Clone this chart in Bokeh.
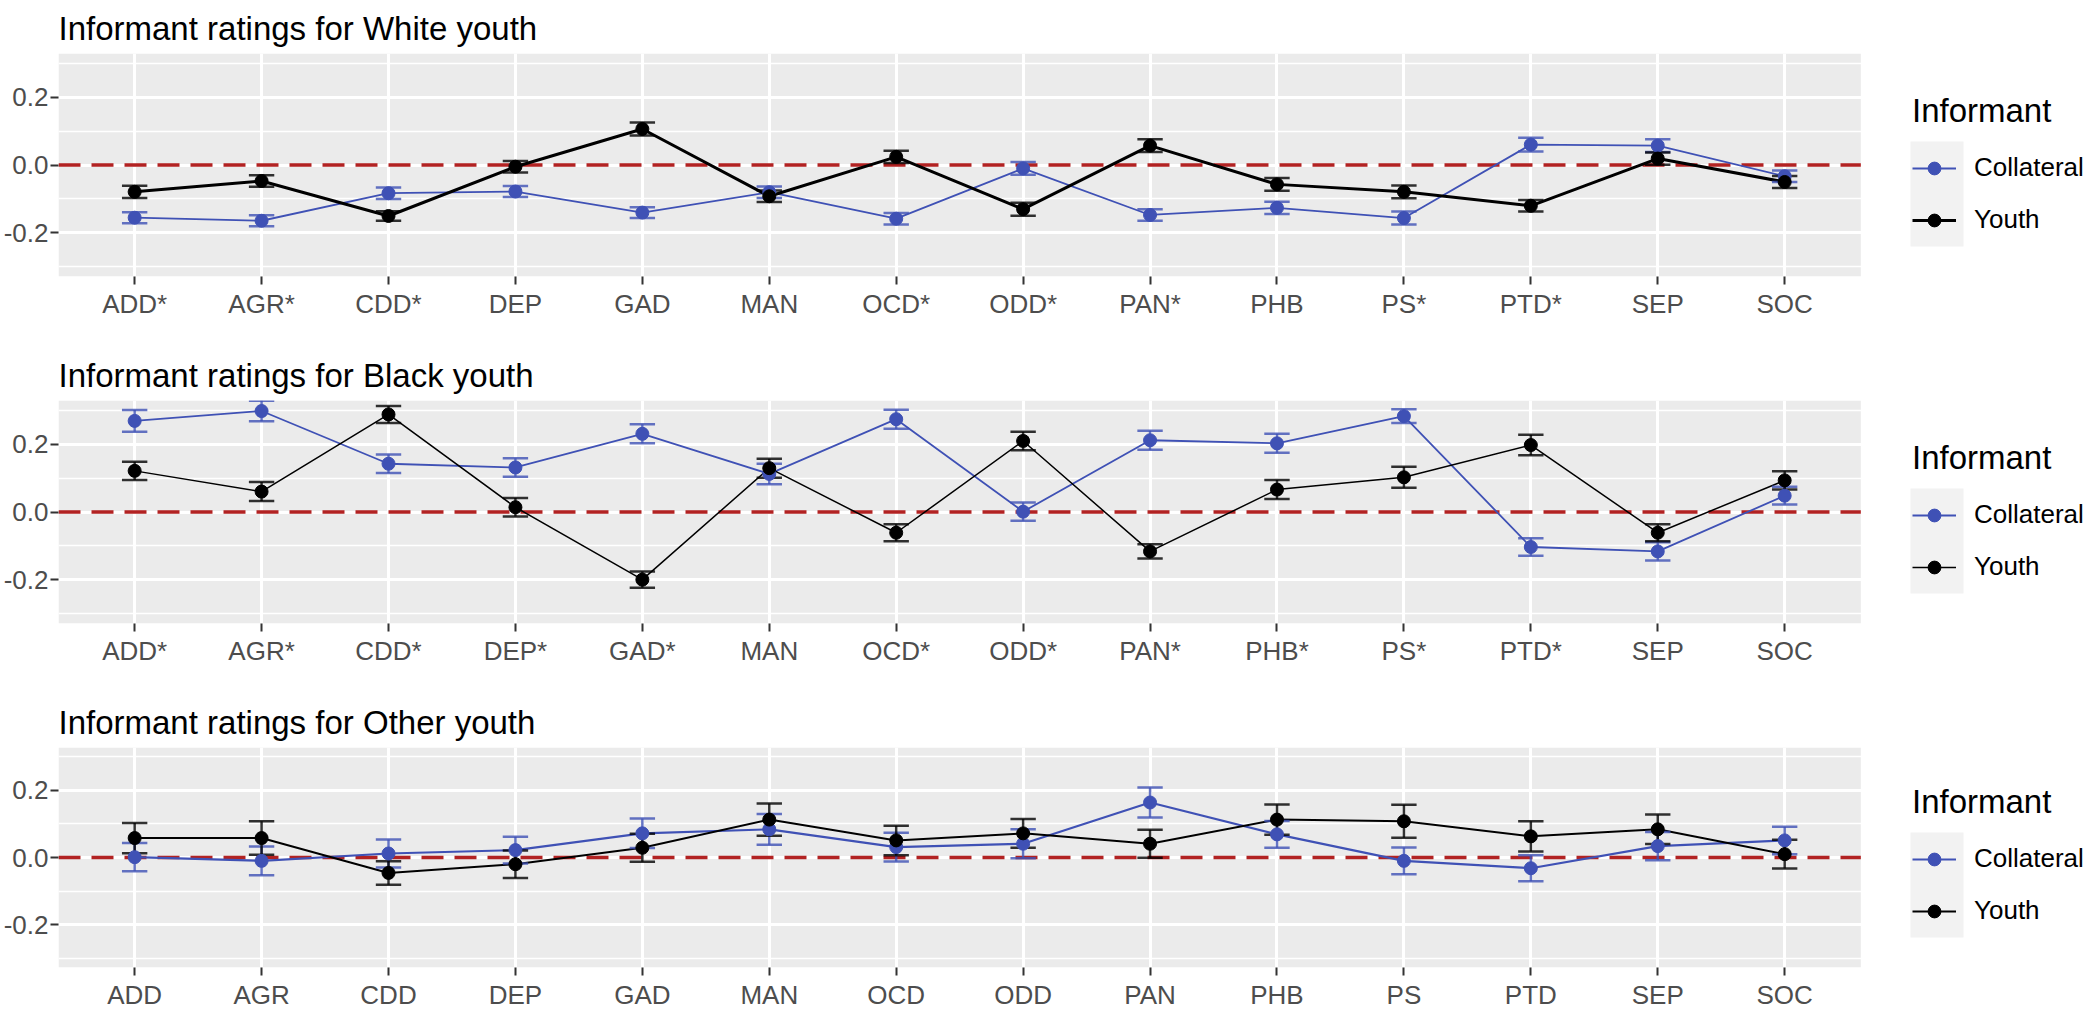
from bokeh.plotting import figure
from bokeh.models import Range1d, FixedTicker, Legend, LegendItem, BoxAnnotation
from bokeh.layouts import column
from bokeh.embed import file_html
from bokeh.resources import INLINE

# ---------------- data ----------------
x_pos = list(range(1, 15))

labels_white = ["ADD*", "AGR*", "CDD*", "DEP", "GAD", "MAN", "OCD*", "ODD*", "PAN*", "PHB", "PS*", "PTD*", "SEP", "SOC"]
labels_black = ["ADD*", "AGR*", "CDD*", "DEP*", "GAD*", "MAN", "OCD*", "ODD*", "PAN*", "PHB*", "PS*", "PTD*", "SEP", "SOC"]
labels_other = ["ADD", "AGR", "CDD", "DEP", "GAD", "MAN", "OCD", "ODD", "PAN", "PHB", "PS", "PTD", "SEP", "SOC"]

white_collateral = [-0.155, -0.164, -0.083, -0.078, -0.140, -0.080, -0.158, -0.010, -0.147, -0.126, -0.156, 0.060, 0.057, -0.033]
white_collateral_se = [0.016, 0.016, 0.017, 0.016, 0.016, 0.017, 0.017, 0.019, 0.017, 0.018, 0.019, 0.020, 0.019, 0.017]
white_youth = [-0.079, -0.047, -0.150, -0.005, 0.106, -0.092, 0.024, -0.130, 0.057, -0.057, -0.079, -0.120, 0.019, -0.050]
white_youth_se = [0.018, 0.017, 0.014, 0.017, 0.019, 0.017, 0.018, 0.019, 0.019, 0.019, 0.019, 0.017, 0.018, 0.018]

black_collateral = [0.268, 0.297, 0.142, 0.131, 0.230, 0.112, 0.273, 0.001, 0.211, 0.202, 0.282, -0.103, -0.116, 0.048]
black_collateral_se = [0.032, 0.030, 0.027, 0.027, 0.028, 0.030, 0.028, 0.027, 0.028, 0.028, 0.020, 0.026, 0.027, 0.026]
black_youth = [0.121, 0.060, 0.287, 0.014, -0.199, 0.129, -0.061, 0.209, -0.116, 0.066, 0.102, 0.197, -0.061, 0.093]
black_youth_se = [0.027, 0.028, 0.025, 0.027, 0.024, 0.028, 0.025, 0.027, 0.021, 0.028, 0.031, 0.030, 0.025, 0.027]

other_collateral = [0.001, -0.010, 0.012, 0.022, 0.072, 0.084, 0.031, 0.041, 0.164, 0.069, -0.010, -0.032, 0.034, 0.051]
other_collateral_se = [0.042, 0.043, 0.042, 0.040, 0.044, 0.046, 0.043, 0.043, 0.045, 0.040, 0.040, 0.039, 0.042, 0.041]
other_youth = [0.058, 0.058, -0.046, -0.020, 0.029, 0.113, 0.051, 0.072, 0.041, 0.113, 0.108, 0.063, 0.084, 0.010]
other_youth_se = [0.045, 0.050, 0.035, 0.041, 0.042, 0.048, 0.044, 0.043, 0.042, 0.045, 0.049, 0.045, 0.044, 0.043]

titles = ["Informant ratings for White youth", "Informant ratings for Black youth", "Informant ratings for Other youth"]
series_names = ["Collateral", "Youth"]
y_major = [-0.2, 0.0, 0.2]
y_minor = [-0.3, -0.1, 0.1, 0.3]
y_labels = ["-0.2", "0.0", "0.2"]
ref_value = 0.0

# ---------------- style / layout ----------------
FONT = "Liberation Sans"
BLUE = "#3F51B5"
BLACK = "#000000"
FIG_W = 2084
LEFT = 55
TOP = 52
FRAME_H = 224
PANEL_W = 1805                      # width of the grey panel in px
X_LO, X_HI = 0.4, 14.6              # discrete-axis expansion of the panel
FRAME_W = FIG_W - LEFT
X_END = X_LO + (X_HI - X_LO) * FRAME_W / PANEL_W
Y_LO, Y_HI = -0.328, 0.328


def make_panel(title, labels, coll, coll_se, youth, youth_se, lw_c, lw_y, bottom):
    height = TOP + FRAME_H + bottom
    p = figure(width=FIG_W, height=height, output_backend="svg", toolbar_location=None,
               x_range=Range1d(X_LO, X_END), y_range=Range1d(Y_LO, Y_HI),
               min_border_left=LEFT, min_border_right=0,
               min_border_top=TOP, min_border_bottom=bottom,
               background_fill_color="white", border_fill_color="white")
    p.outline_line_color = None

    # grey panel background (only over the data area)
    p.add_layout(BoxAnnotation(left=X_LO, right=X_HI, fill_color="#EBEBEB", fill_alpha=1.0,
                               line_color=None, level="image"))

    p.title.text = title
    p.title.text_font = FONT
    p.title.text_font_size = "33px"
    p.title.text_font_style = "normal"
    p.title.text_color = "#000000"
    p.title.align = "left"
    p.title.standoff = 14
    p.title.offset = 0

    # grids
    p.xgrid.ticker = FixedTicker(ticks=x_pos)
    p.xgrid.grid_line_color = "white"
    p.xgrid.grid_line_width = 3
    yt = FixedTicker(ticks=y_major, minor_ticks=y_minor)
    p.ygrid.ticker = yt
    p.ygrid.grid_line_color = "white"
    p.ygrid.grid_line_width = 3
    p.ygrid.minor_grid_line_color = "white"
    p.ygrid.minor_grid_line_width = 1.5

    # axes
    for ax in (p.xaxis[0], p.yaxis[0]):
        ax.axis_line_color = None
        ax.major_tick_line_color = "#333333"
        ax.major_tick_line_width = 2
        ax.major_tick_in = 0
        ax.major_tick_out = 8
        ax.minor_tick_line_color = None
        ax.major_label_text_font = FONT
        ax.major_label_text_font_size = "26px"
        ax.major_label_text_color = "#4D4D4D"
    p.xaxis.ticker = FixedTicker(ticks=x_pos)
    p.xaxis.major_label_overrides = {x: lab for x, lab in zip(x_pos, labels)}
    p.xaxis.major_label_standoff = 4
    p.yaxis.ticker = yt
    p.yaxis.major_label_overrides = {v: s for v, s in zip(y_major, y_labels)}
    p.yaxis.major_label_standoff = 2

    # dashed reference line at zero across the panel
    p.line(x=[X_LO, X_HI], y=[ref_value, ref_value], line_color="#B22222",
           line_width=3.5, line_dash="22 11")

    rends = {}
    for name, vals, col, lw in ((series_names[0], coll, BLUE, lw_c),
                                (series_names[1], youth, BLACK, lw_y)):
        ln = p.line(x_pos, vals, line_color=col, line_width=lw)
        rends[name] = [ln]
    for vals, ses, col in ((coll, coll_se, BLUE), (youth, youth_se, BLACK)):
        lo = [v - s for v, s in zip(vals, ses)]
        hi = [v + s for v, s in zip(vals, ses)]
        xl = [x - 0.1 for x in x_pos]
        xr = [x + 0.1 for x in x_pos]
        p.segment(x0=x_pos, y0=lo, x1=x_pos, y1=hi, line_color=col, line_width=2.5, line_alpha=0.8)
        p.segment(x0=xl, y0=hi, x1=xr, y1=hi, line_color=col, line_width=2.5, line_alpha=0.8)
        p.segment(x0=xl, y0=lo, x1=xr, y1=lo, line_color=col, line_width=2.5, line_alpha=0.8)
    for name, vals, col in ((series_names[0], coll, BLUE), (series_names[1], youth, BLACK)):
        pt = p.scatter(x_pos, vals, size=13, color=col)
        rends[name].append(pt)

    # legend (to the right of the grey panel)
    leg_x = PANEL_W + 49
    leg_y = (FRAME_H - 143) / 2.0
    item2_c = leg_y + 16
    item1_c = item2_c + 52
    p.add_layout(BoxAnnotation(left=leg_x - 2, right=leg_x + 51,
                               bottom=item2_c - 26.5, top=item1_c + 26.5,
                               left_units="screen", right_units="screen",
                               top_units="screen", bottom_units="screen",
                               fill_color="#F2F2F2", fill_alpha=1.0, line_color=None))
    legend = Legend(items=[LegendItem(label=n, renderers=rends[n]) for n in series_names],
                    location=(leg_x, leg_y), title="Informant",
                    title_text_font=FONT, title_text_font_size="33px", title_text_font_style="normal",
                    title_text_color="#000000", title_standoff=22,
                    label_text_font=FONT, label_text_font_size="26px", label_text_color="#000000",
                    glyph_width=44, glyph_height=32, spacing=20, label_standoff=18,
                    padding=0, margin=0, border_line_color=None,
                    background_fill_alpha=0)
    p.add_layout(legend)
    return p


p1 = make_panel(titles[0], labels_white, white_collateral, white_collateral_se,
                white_youth, white_youth_se, 1.8, 3.0, 71)
p2 = make_panel(titles[1], labels_black, black_collateral, black_collateral_se,
                black_youth, black_youth_se, 1.8, 1.5, 71)
p3 = make_panel(titles[2], labels_other, other_collateral, other_collateral_se,
                other_youth, other_youth_se, 2.2, 2.0, 42)

layout = column(p1, p2, p3, spacing=0)
open("out.html", "w").write(file_html(layout, INLINE))
